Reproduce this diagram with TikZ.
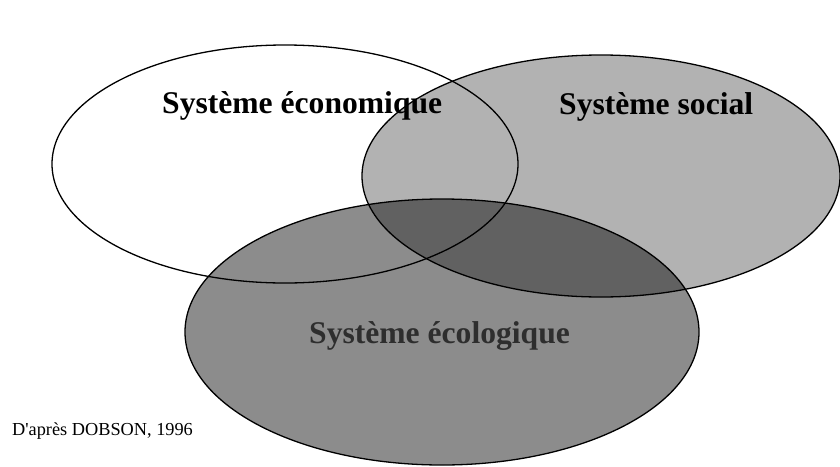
\documentclass[tikz,border=0pt]{standalone}
\usepackage{fontspec}
\setmainfont{Liberation Serif}
\newfontfamily\srcfont{Liberation Serif}
\begin{document}
\begin{tikzpicture}[x=1pt,y=-1pt,
  circ/.style={draw=black,line width=1.3pt},
  title/.style={font=\bfseries\fontsize{31.6}{36}\selectfont,inner sep=0pt,anchor=base west}]
\useasboundingbox (0,0) rectangle (840,466);
\fill[white] (0,0) rectangle (840,466);
\draw[circ,fill=white] (285,164) ellipse [x radius=233,y radius=119];
\draw[circ,fill=black,fill opacity=0.3] (601,176) ellipse [x radius=239,y radius=121];
\node[title] (eco) at (162,113) {Système économique};
\node[title] (soc) at (559,114) {Système social};
\draw[circ,fill=black,fill opacity=0.45] (442,332) ellipse [x radius=257,y radius=133];
\node[title,text=black!82] (ecol) at (309,343) {Système écologique};
\node[font=\srcfont\fontsize{18.3}{22}\selectfont,inner sep=0pt,anchor=base west] (src) at (12,435) {D'après DOBSON, 1996};
\end{tikzpicture}
\end{document}
